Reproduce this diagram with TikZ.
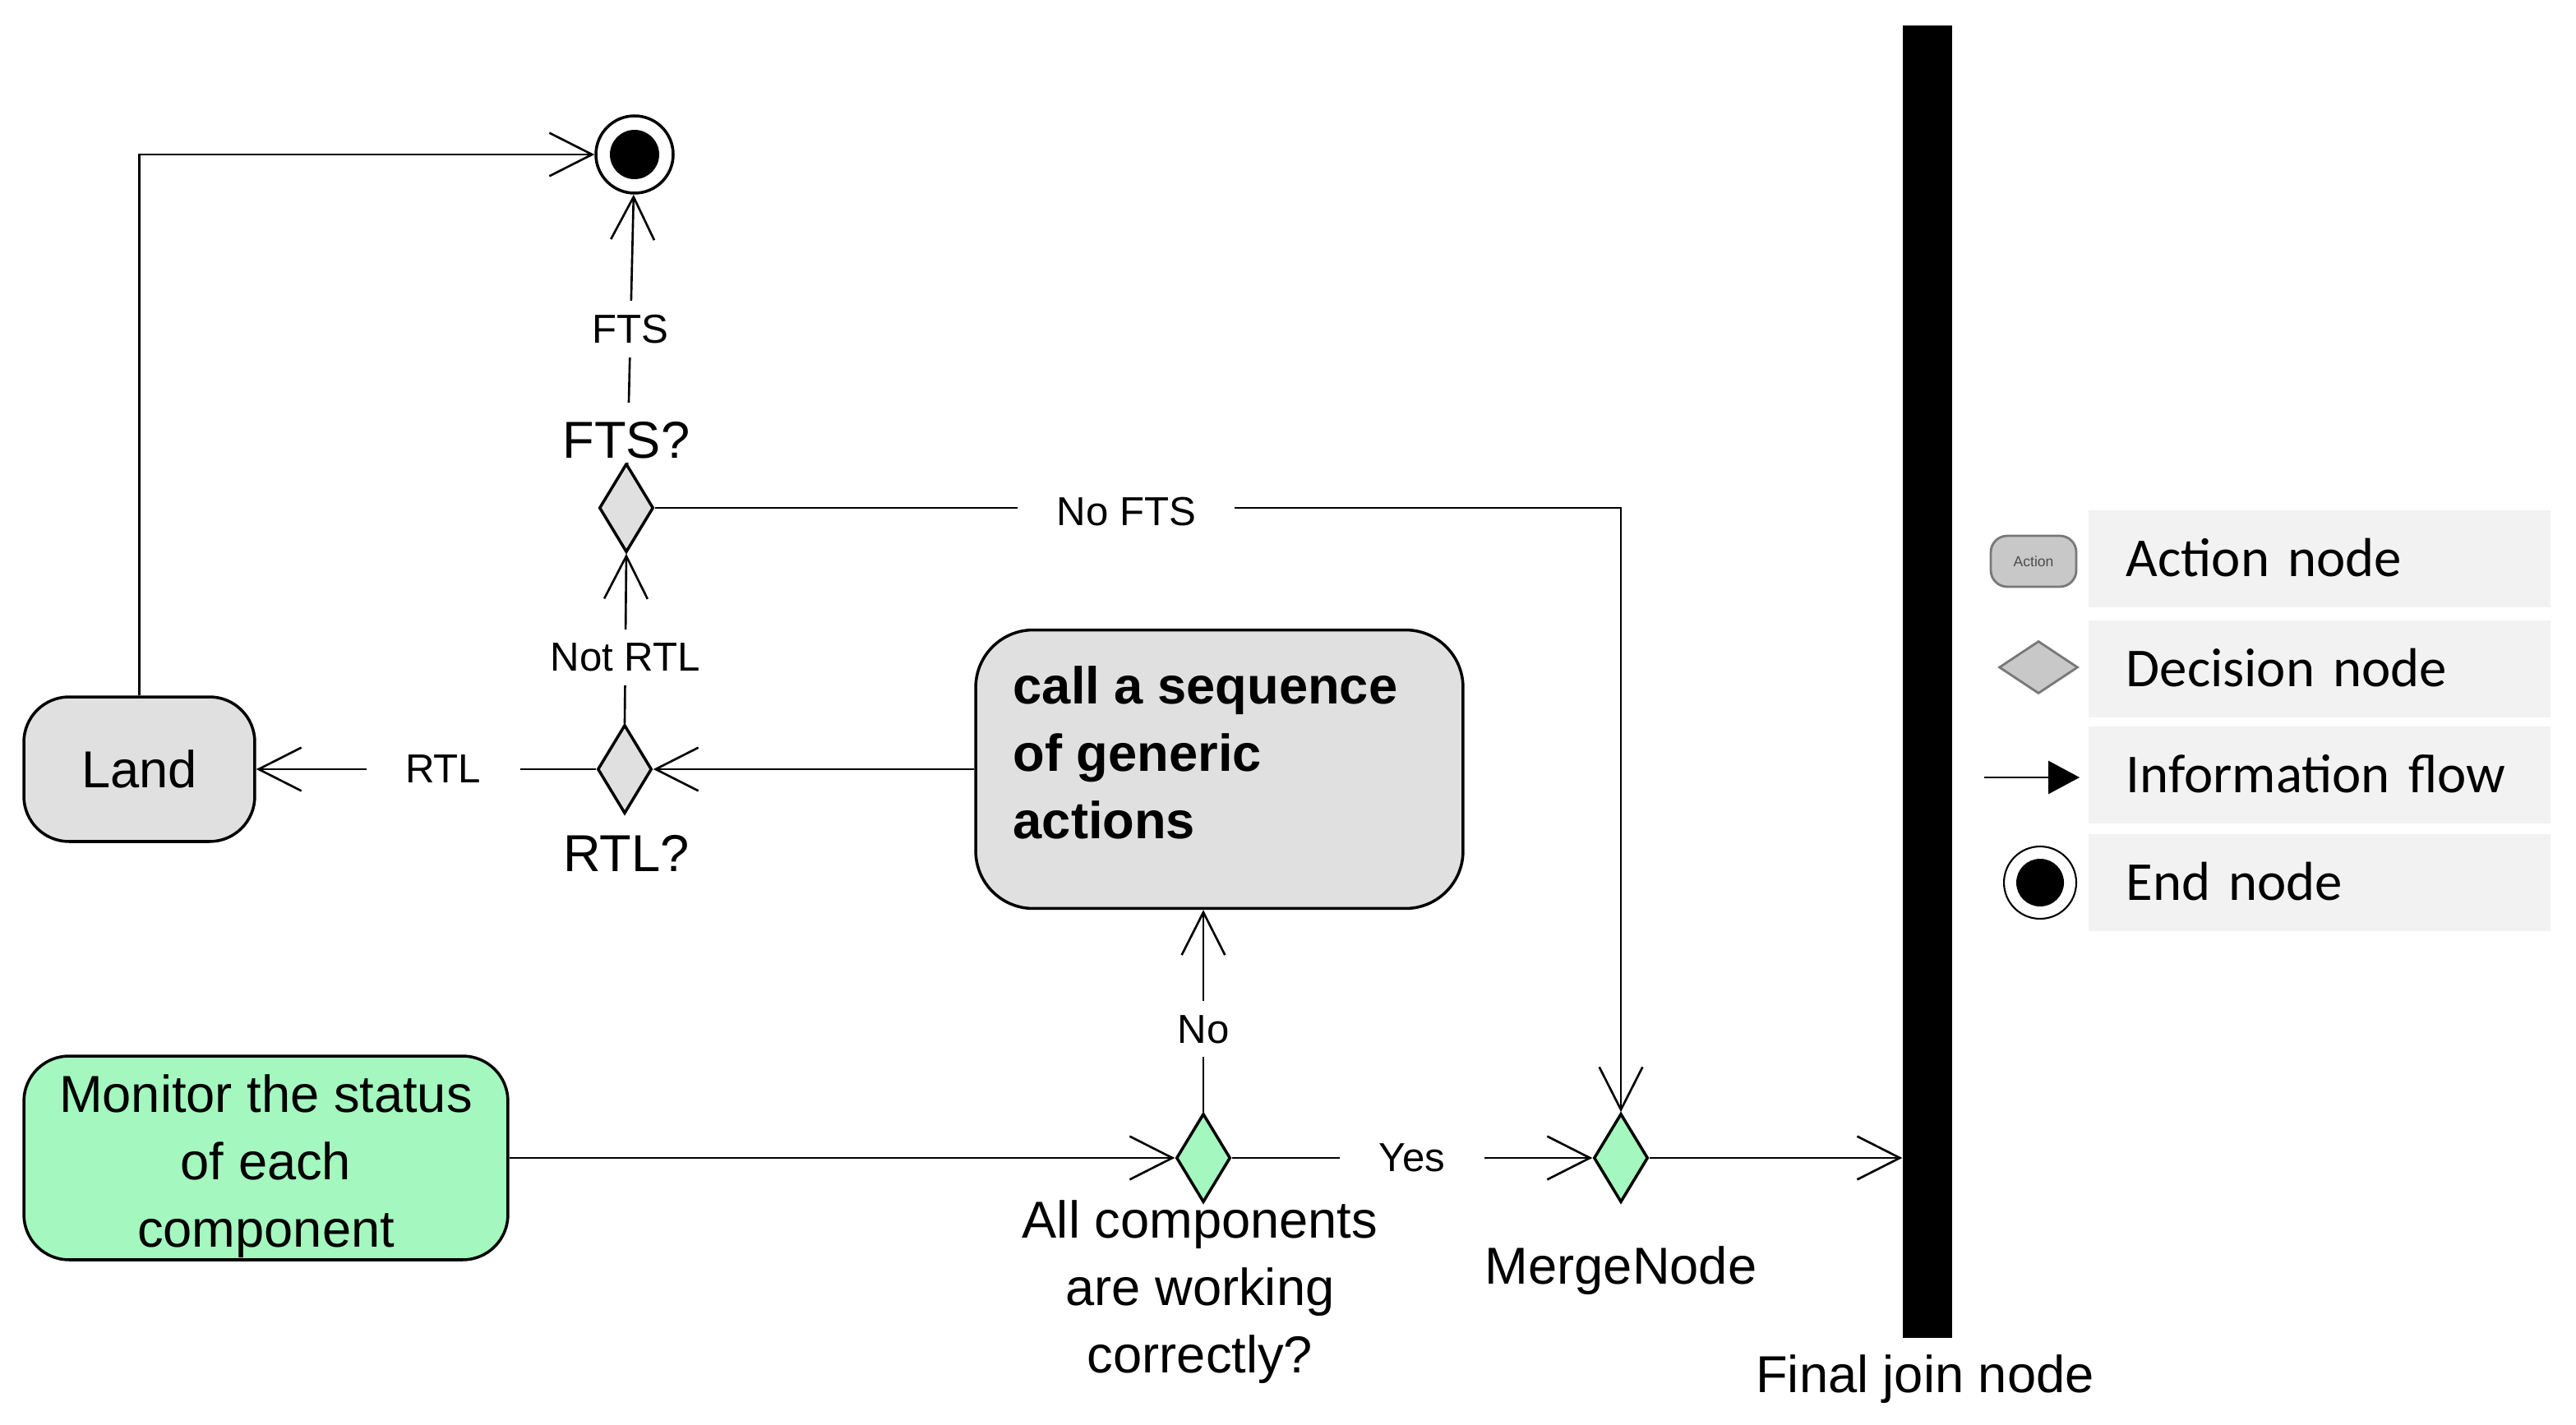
\documentclass[tikz,border=0pt]{standalone}
\usepackage{fontspec}
\setmainfont{Liberation Sans}
\newfontfamily\legfont{Carlito}
\usetikzlibrary{shapes.geometric,arrows.meta,positioning}
\definecolor{actgray}{RGB}{224,224,224}
\definecolor{actgreen}{RGB}{164,247,190}
\definecolor{leggray}{RGB}{242,242,242}
\definecolor{iconfill}{RGB}{200,200,200}
\definecolor{iconline}{RGB}{120,120,120}
\begin{document}
\begin{tikzpicture}[x=0.02cm,y=-0.02cm,%activity diagram
  every node/.style={font=\fontsize{18}{23.3}\selectfont},
  action/.style={draw,rounded corners=0.55cm,fill=actgray,line width=1pt,inner sep=0pt},
  decision/.style={diamond,draw,fill=actgray,line width=1pt,inner sep=0pt,minimum width=0.66cm,minimum height=1.08cm},
  endnode/.style={circle,draw,line width=1pt,inner sep=0pt,minimum size=0.94cm,
    path picture={\fill (path picture bounding box.center) circle (0.3cm);}},
  flow/.style={line width=0.75pt,-{Straight Barb[length=14.8pt,width=15pt]}},
  elbl/.style={fill=white,inner xsep=13.5pt,inner ysep=4.8pt,font=\fontsize{14}{17}\selectfont},
  legbox/.style={fill=leggray,anchor=west,minimum height=1.18cm,text width=4.7cm,inner xsep=0.46cm,align=left,
    text height=14pt,text depth=1.8pt,font=\legfont\fontsize{19}{23}\selectfont}]
\useasboundingbox (0,0) rectangle (1567,866.5);
\node[endnode] (end) at (386,94) {};
\node[decision] (fts) at (381,309) {};
\node[decision] (rtl) at (380,468) {};
\node[action,minimum width=2.81cm,minimum height=1.76cm] (land) at (84.75,468) {Land};
\node[action,rounded corners=0.7cm,minimum width=5.93cm,minimum height=3.39cm] (call) at (741.75,468) {};
\node[font=\bfseries\fontsize{18}{23.3}\selectfont,align=left,anchor=north west,inner sep=0pt] (calltxt) at (616,405) {call a sequence\\of generic\\actions};
\node[action,fill=actgreen,minimum width=5.89cm,minimum height=2.48cm,align=center] (mon) at (161.75,704.5) {\rule{0pt}{19pt}Monitor the status\\of each\\component};
\node[decision,fill=actgreen] (allok) at (732,704.5) {};
\node[decision,fill=actgreen] (merge) at (986,704.5) {};
\node[fill=black,inner sep=0pt,minimum width=0.6cm,minimum height=15.97cm] (join) at (1172.5,414.75) {};
%flows
\draw[flow] (land.north) |- (end.west);
\draw[flow] (fts) -- node[elbl,pos=0.5]{FTS} (end);
\draw[flow] (rtl.north) -- node[elbl,pos=0.39]{Not RTL} (fts.south);
\draw[flow] (fts.east) -| node[elbl,pos=0.244,yshift=-0.05cm]{No FTS} (merge.north);
\draw[flow] (call.west) -- (rtl.east);
\draw[flow] (rtl.west) -- node[elbl,pos=0.45]{RTL} (land.east);
\draw[flow] (mon.east) -- (allok.west);
\draw[flow] (allok.north) -- node[elbl,pos=0.41]{No} (allok.north |- call.south);
\draw[flow] (allok.east) -- node[elbl]{Yes} (merge.west);
\draw[flow] (merge.east) -- (merge.east -| join.west);
%names
\node[fill=white,inner xsep=1pt,inner ysep=0pt,text height=19pt,text depth=1.7pt,anchor=base] (ftsq) at (381,278.5) {FTS?};
\node[anchor=base] (rtlq) at (381,530) {RTL?};
\node[align=center,anchor=north,inner sep=0pt] (allq) at (730,730) {All components\\are working\\correctly?};
\node[anchor=base] (mergeq) at (986,781) {MergeNode};
\node[anchor=base] (joinq) at (1171,847) {Final join node};
%legend
\foreach \y/\t [count=\i] in {340/Action node,407/Decision node,471.5/Information flow,537/End node}
  \node[legbox] (leg\i) at (1270,\y) {\t};
\node[draw=iconline,fill=iconfill,line width=0.8pt,rounded corners=0.2cm,minimum width=1.04cm,minimum height=0.62cm,inner sep=0pt,
  font=\fontsize{5}{6}\selectfont,text=black!70] (legact) at (1237,341.5) {Action};
\node[diamond,draw=iconline,fill=iconfill,line width=0.8pt,inner sep=0pt,minimum width=0.96cm,minimum height=0.64cm] (legdec) at (1240,406) {};
\coordinate (flowa) at (1207,473);
\coordinate (flowb) at (1265,473);
\draw[line width=0.75pt,-{Triangle[length=10.8pt,width=11.4pt]}] (flowa) -- (flowb);
\node[circle,draw,line width=0.6pt,inner sep=0pt,minimum size=0.88cm,
  path picture={\fill (path picture bounding box.center) circle (0.29cm);}] (legend) at (1241,537) {};
\end{tikzpicture}
\end{document}
